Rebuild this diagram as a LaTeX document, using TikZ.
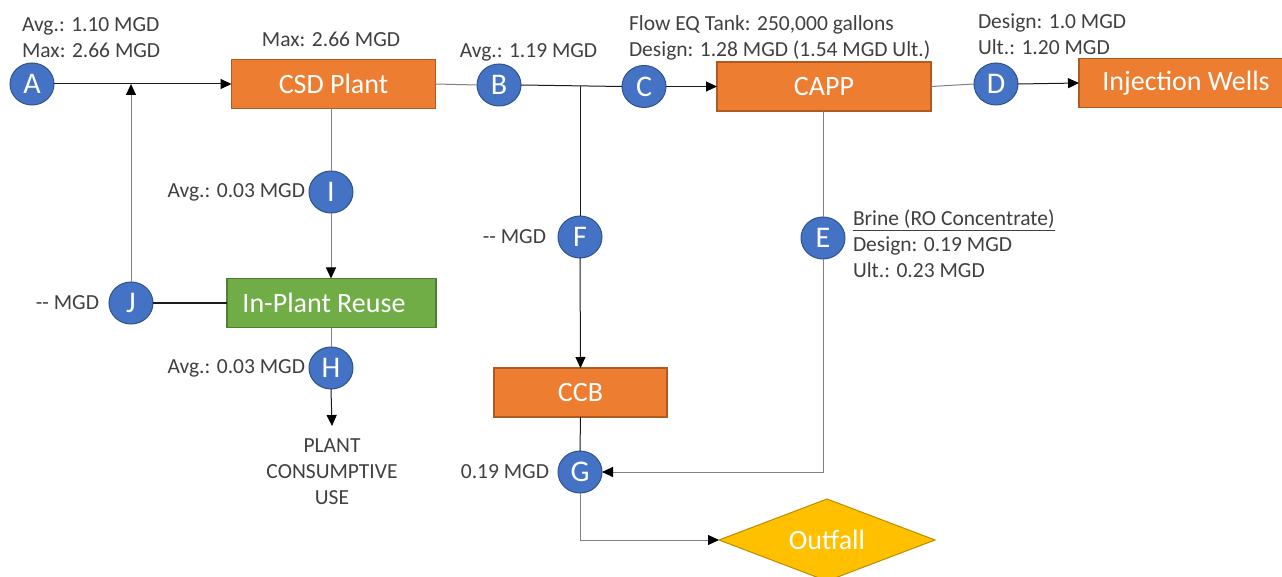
\documentclass[tikz,border=0pt]{standalone}
\usepackage{fontspec}
\setmainfont{Carlito}
\usetikzlibrary{arrows.meta,shapes.geometric}

\definecolor{orfill}{HTML}{ED7D31}
\definecolor{oredge}{HTML}{AE5A21}
\definecolor{grfill}{HTML}{70AD47}
\definecolor{gredge}{HTML}{507E32}
\definecolor{ptfill}{HTML}{4472C4}
\definecolor{ptedge}{HTML}{2F528F}
\definecolor{yefill}{HTML}{FFC000}
\definecolor{yeedge}{HTML}{BC8C00}
\definecolor{txt}{HTML}{404040}
\definecolor{pipegray}{HTML}{808080}
\definecolor{pipedark}{HTML}{1A1A1A}

\begin{document}
\begin{tikzpicture}[x=1pt,y=-1pt,
  every node/.style={inner sep=0pt, outer sep=0pt},
  lbl/.style={text=txt, font=\fontsize{21.5}{26}\selectfont},
  letter/.style={ellipse, fill=ptfill, draw=ptedge, line width=1pt,
    minimum width=44pt, minimum height=42pt, text=white,
    font=\fontsize{30}{30}\selectfont},
  procbox/.style={rectangle, line width=1.2pt, minimum height=49pt,
    text=white, font=\fontsize{28}{28}\selectfont},
  orangebox/.style={procbox, fill=orfill, draw=oredge},
  greenbox/.style={procbox, fill=grfill, draw=gredge},
  pipe/.style={draw=pipegray, line width=1pt},
  dark/.style={draw=pipedark, line width=1pt},
  tip/.style={-{Triangle[length=11pt,width=10pt,color=black]}}]

\useasboundingbox[fill=white] (0,0) rectangle (1282,577);

% --- process units ---
\node[orangebox, minimum width=204pt] (CSD) at (333.5,84) {CSD Plant};
\node[orangebox, minimum width=214pt] (CAPP) at (824,86.5) {CAPP};
\node[orangebox, minimum width=214pt] (WELLS) at (1186,83) {Injection Wells};
\node[greenbox, minimum width=209pt] (REUSE) at (331.5,303) {\hspace*{-15pt}In-Plant Reuse};
\node[orangebox, minimum width=173pt] (CCB) at (580.5,392.5) {CCB};
\node[diamond, aspect=2.63, minimum width=216pt, minimum height=82pt,
  fill=yefill, draw=yeedge, line width=1pt, text=white,
  font=\fontsize{28}{28}\selectfont] (OUT) at (827,540) {Outfall};
\node[lbl, align=center] (USE) at (332,472) {PLANT\\CONSUMPTIVE\\USE};

% --- flow points ---
\node[letter] (A) at (32,84) {A};
\node[letter] (B) at (499,85) {B};
\node[letter] (C) at (644,86.5) {C};
\node[letter] (D) at (996,84) {D};
\node[letter] (E) at (823,238) {E};
\node[letter] (F) at (580,237) {F};
\node[letter] (G) at (580,472) {G};
\node[letter] (H) at (331,368) {H};
\node[letter] (I) at (331,192) {I};
\node[letter] (J) at (131,303) {J};

% --- flow labels ---
\node[lbl, align=left, anchor=west] (lA) at (22,37.5) {Avg.: 1.10 MGD\\Max: 2.66 MGD};
\node[lbl] (lCSD) at (331,39) {Max: 2.66 MGD};
\node[lbl] (lB) at (528.5,52) {Avg.: 1.19 MGD};
\node[lbl, align=left, anchor=west] (lC) at (629,37.5)
  {Flow EQ Tank: 250,000 gallons\\Design: 1.28 MGD (1.54 MGD Ult.)};
\node[lbl, align=left, anchor=west] (lD) at (978,34) {Design: 1.0 MGD\\Ult.: 1.20 MGD};
\node[lbl, anchor=east] (lI) at (305,192) {Avg.: 0.03 MGD};
\node[lbl, anchor=east] (lJ) at (99,303) {-{}- MGD};
\node[lbl, anchor=east] (lH) at (305,368) {Avg.: 0.03 MGD};
\node[lbl, anchor=east] (lF) at (546,237) {-{}- MGD};
\node[lbl, align=left, anchor=west] (lE) at (853,244)
  {\underline{Brine (RO Concentrate)}\\Design: 0.19 MGD\\Ult.: 0.23 MGD};
\node[lbl, anchor=east] (lG) at (549,472) {0.19 MGD};

% --- connectors ---
\coordinate (jA) at (J |- A);
\coordinate (jB) at (580,86);

\draw[dark, tip] (A.east) -- (CSD.west);
\draw[pipe, tip] (J.north) -- (jA);
\draw[dark] (J.east) -- (REUSE.west);
\draw[pipe] (I.north |- CSD.south) -- (I.north);
\draw[pipe, tip] (I.south) -- (I |- REUSE.north);
\draw[pipe] (H |- REUSE.south) -- (H.north);
\draw[dark, tip] (H.south) -- ([yshift=13pt]USE.north);

\draw[pipe] (CSD.east) -- (B.west);
\draw[dark] (B.east) -- (C.west);
\draw[dark] (jB) -- (F.north);
\draw[dark, tip] (F.south) -- (CCB.north);
\draw[dark, tip] (C.east) -- (CAPP.west);
\draw[pipe] (CAPP.east) -- (D.west);
\draw[dark, tip] (D.east) -- (WELLS.west);

\draw[pipe] (E.north |- CAPP.south) -- (E.north);
\draw[pipe, tip] (E.south) |- (G.east);
\draw[dark] (CCB.south) -- (G.north);
\draw[pipe, tip] (G.south) |- (OUT.west);
\end{tikzpicture}
\end{document}
